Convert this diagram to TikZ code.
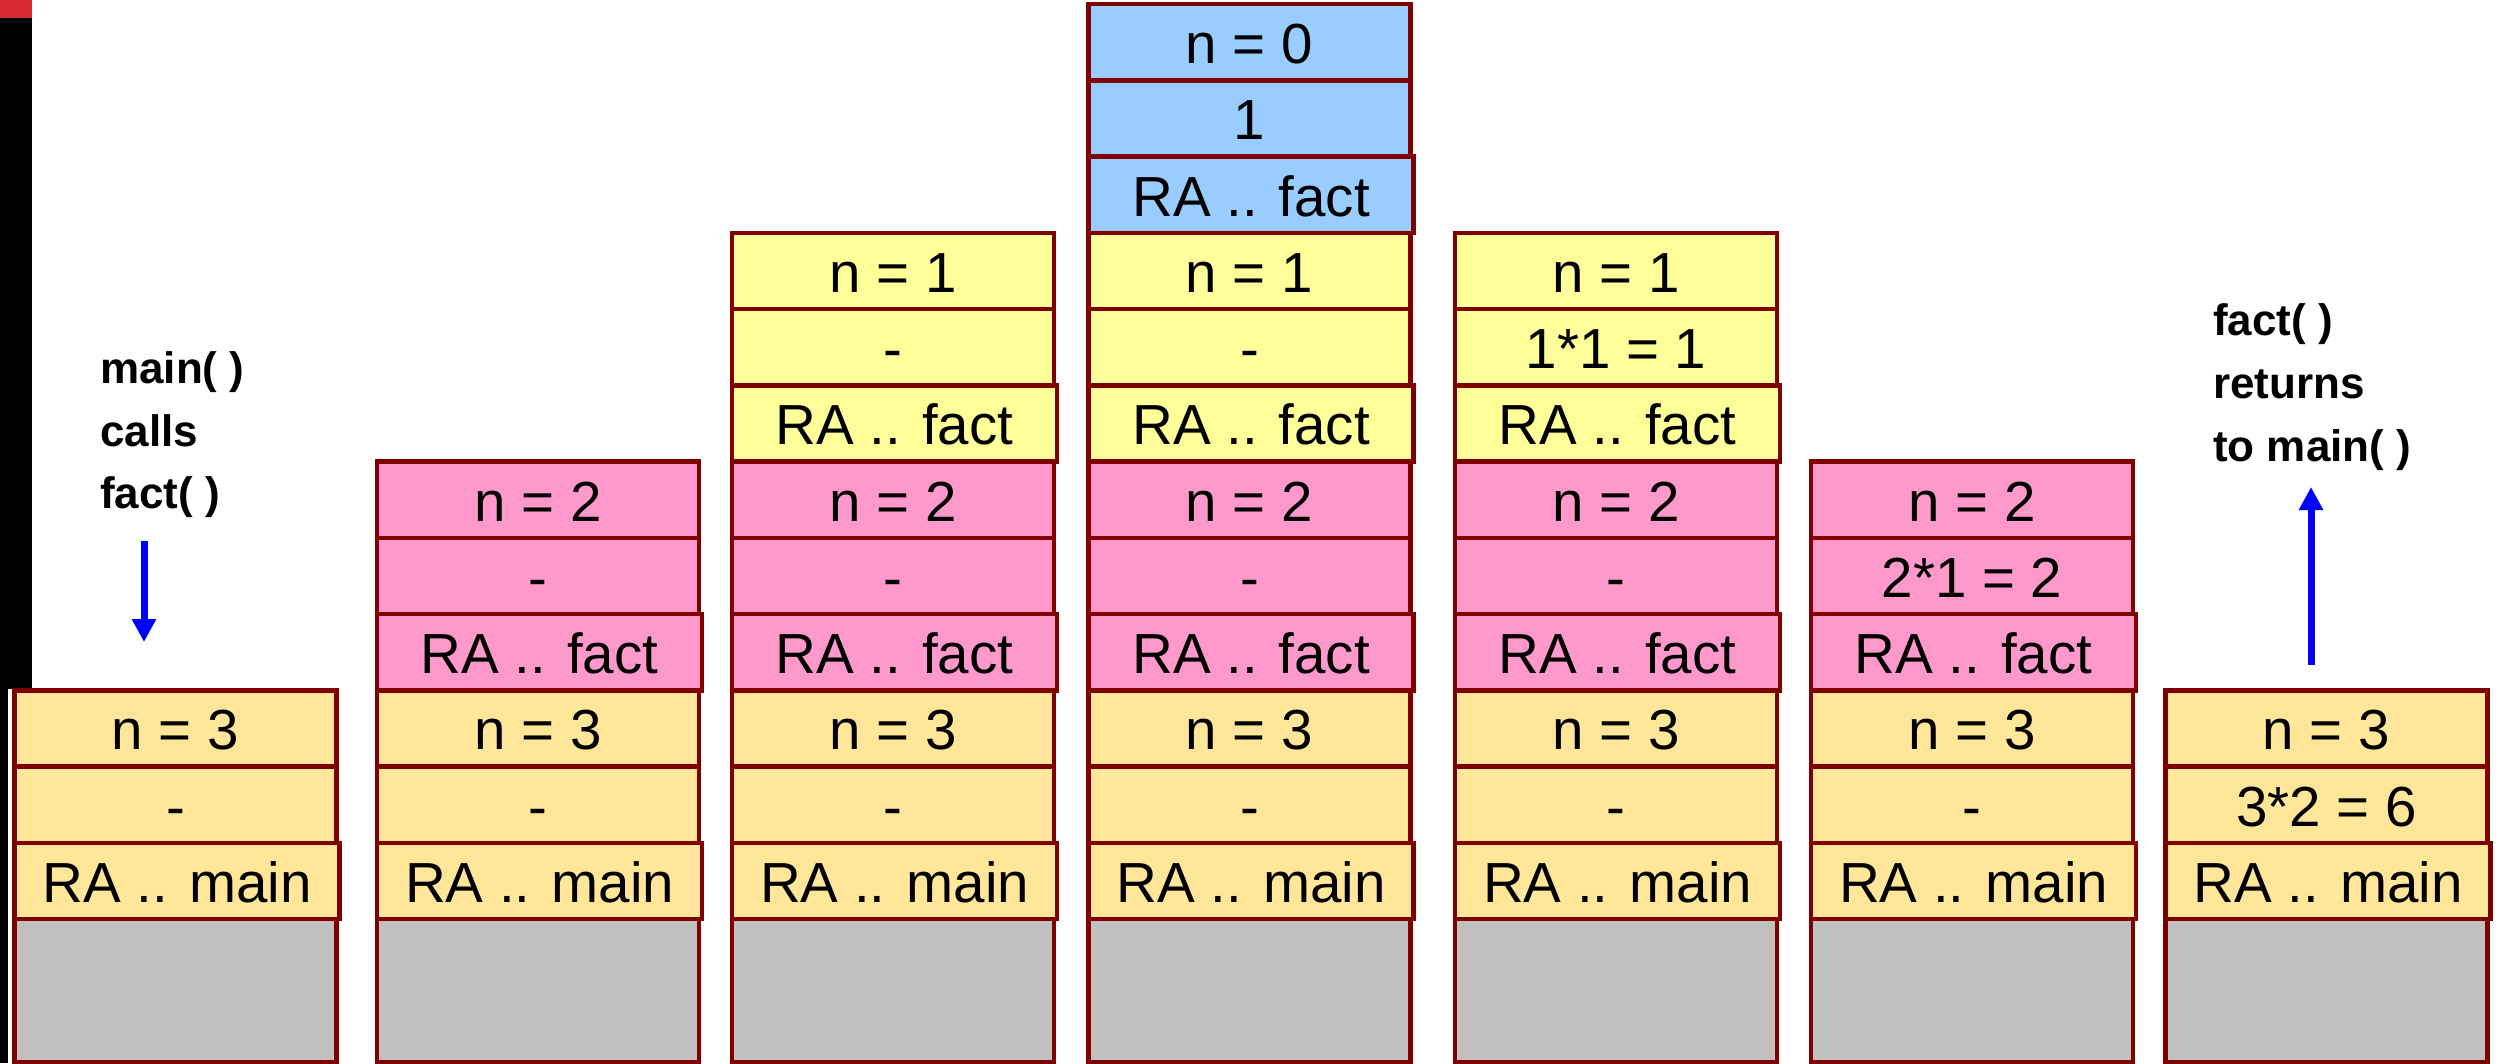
\documentclass[tikz,border=0pt]{standalone}
\usepackage{fontspec}
\setmainfont{Liberation Sans}
\usetikzlibrary{arrows.meta}
\definecolor{frmorange}{HTML}{FFE699}
\definecolor{frmpink}{HTML}{FF99CC}
\definecolor{frmyellow}{HTML}{FFFF99}
\definecolor{frmblue}{HTML}{99CCFF}
\definecolor{frmgray}{HTML}{C0C0C0}
\definecolor{frmborder}{HTML}{800000}
\definecolor{barred}{HTML}{D82830}
\definecolor{arrblue}{HTML}{0000FF}
\newcommand\mkcell[6][]{\node[cell,fill=#5,#1] (#2) at ({#3},{919-76.25*(#4-0.5)}) {#6};}
\begin{document}
\begin{tikzpicture}[x=1pt,y=-1pt,
  cell/.style={draw=frmborder,line width=4.5pt,rectangle,minimum width=322pt,
    minimum height=76.25pt,inner sep=0pt,text height=43pt,text depth=0pt,
    font=\fontsize{56.5}{60}\selectfont},
  racell/.style={minimum width=325pt,xshift=1.5pt},
  graycell/.style={draw=frmborder,line width=4.5pt,rectangle,fill=frmgray,
    minimum width=322pt,minimum height=143pt,inner sep=0pt},
  lbl/.style={anchor=base west,inner sep=0pt,font=\fontsize{44}{50}\selectfont\bfseries},
  bluearrow/.style={draw=arrblue,line width=7pt,-{Triangle[width=23pt,length=23pt]}}]
\useasboundingbox (0,0) rectangle (2507,1063);
% left bar
\fill[black] (0,18) rectangle (32,689);
\fill[black] (0,689) rectangle (8,1063);
\fill[barred] (0,0) rectangle (32,18);
% ---------- stack 1 ----------
\node[graycell] (g1) at (175.5,990.5) {};
\mkcell[racell]{s1a}{175.5}{1}{frmorange}{RA .. main}
\mkcell{s1b}{175.5}{2}{frmorange}{-}
\mkcell{s1c}{175.5}{3}{frmorange}{n = 3}
% ---------- stack 2 ----------
\node[graycell] (g2) at (538,990.5) {};
\mkcell[racell]{s2a}{538}{1}{frmorange}{RA .. main}
\mkcell{s2b}{538}{2}{frmorange}{-}
\mkcell{s2c}{538}{3}{frmorange}{n = 3}
\mkcell[racell]{s2d}{538}{4}{frmpink}{RA .. fact}
\mkcell{s2e}{538}{5}{frmpink}{-}
\mkcell{s2f}{538}{6}{frmpink}{n = 2}
% ---------- stack 3 ----------
\node[graycell] (g3) at (893,990.5) {};
\mkcell[racell]{s3a}{893}{1}{frmorange}{RA .. main}
\mkcell{s3b}{893}{2}{frmorange}{-}
\mkcell{s3c}{893}{3}{frmorange}{n = 3}
\mkcell[racell]{s3d}{893}{4}{frmpink}{RA .. fact}
\mkcell{s3e}{893}{5}{frmpink}{-}
\mkcell{s3f}{893}{6}{frmpink}{n = 2}
\mkcell[racell]{s3g}{893}{7}{frmyellow}{RA .. fact}
\mkcell{s3h}{893}{8}{frmyellow}{-}
\mkcell{s3i}{893}{9}{frmyellow}{n = 1}
% ---------- stack 4 ----------
\node[graycell] (g4) at (1249.5,990.5) {};
\mkcell[racell]{s4a}{1249.5}{1}{frmorange}{RA .. main}
\mkcell{s4b}{1249.5}{2}{frmorange}{-}
\mkcell{s4c}{1249.5}{3}{frmorange}{n = 3}
\mkcell[racell]{s4d}{1249.5}{4}{frmpink}{RA .. fact}
\mkcell{s4e}{1249.5}{5}{frmpink}{-}
\mkcell{s4f}{1249.5}{6}{frmpink}{n = 2}
\mkcell[racell]{s4g}{1249.5}{7}{frmyellow}{RA .. fact}
\mkcell{s4h}{1249.5}{8}{frmyellow}{-}
\mkcell{s4i}{1249.5}{9}{frmyellow}{n = 1}
\mkcell[racell]{s4j}{1249.5}{10}{frmblue}{RA .. fact}
\mkcell{s4k}{1249.5}{11}{frmblue}{1}
\mkcell{s4l}{1249.5}{12}{frmblue}{n = 0}
% ---------- stack 5 ----------
\node[graycell] (g5) at (1616,990.5) {};
\mkcell[racell]{s5a}{1616}{1}{frmorange}{RA .. main}
\mkcell{s5b}{1616}{2}{frmorange}{-}
\mkcell{s5c}{1616}{3}{frmorange}{n = 3}
\mkcell[racell]{s5d}{1616}{4}{frmpink}{RA .. fact}
\mkcell{s5e}{1616}{5}{frmpink}{-}
\mkcell{s5f}{1616}{6}{frmpink}{n = 2}
\mkcell[racell]{s5g}{1616}{7}{frmyellow}{RA .. fact}
\mkcell{s5h}{1616}{8}{frmyellow}{1*1 = 1}
\mkcell{s5i}{1616}{9}{frmyellow}{n = 1}
% ---------- stack 6 ----------
\node[graycell] (g6) at (1972,990.5) {};
\mkcell[racell]{s6a}{1972}{1}{frmorange}{RA .. main}
\mkcell{s6b}{1972}{2}{frmorange}{-}
\mkcell{s6c}{1972}{3}{frmorange}{n = 3}
\mkcell[racell]{s6d}{1972}{4}{frmpink}{RA .. fact}
\mkcell{s6e}{1972}{5}{frmpink}{2*1 = 2}
\mkcell{s6f}{1972}{6}{frmpink}{n = 2}
% ---------- stack 7 ----------
\node[graycell] (g7) at (2326.5,990.5) {};
\mkcell[racell]{s7a}{2326.5}{1}{frmorange}{RA .. main}
\mkcell{s7b}{2326.5}{2}{frmorange}{3*2 = 6}
\mkcell{s7c}{2326.5}{3}{frmorange}{n = 3}
% ---------- labels ----------
\node[lbl] (l1) at (100,383) {main( )};
\node[lbl] (l2) at (100,446) {calls};
\node[lbl] (l3) at (100,508) {fact( )};
\node[lbl] (r1) at (2213,335) {fact( )};
\node[lbl] (r2) at (2213,398) {returns};
\node[lbl] (r3) at (2213,461) {to main( )};
% ---------- arrows ----------
\coordinate (a1s) at (144,541);
\coordinate (a1e) at (144,642);
\draw[bluearrow] (a1s) -- (a1e);
\coordinate (a2s) at (2311,665);
\coordinate (a2e) at (2311,487);
\draw[bluearrow] (a2s) -- (a2e);
\end{tikzpicture}
\end{document}
